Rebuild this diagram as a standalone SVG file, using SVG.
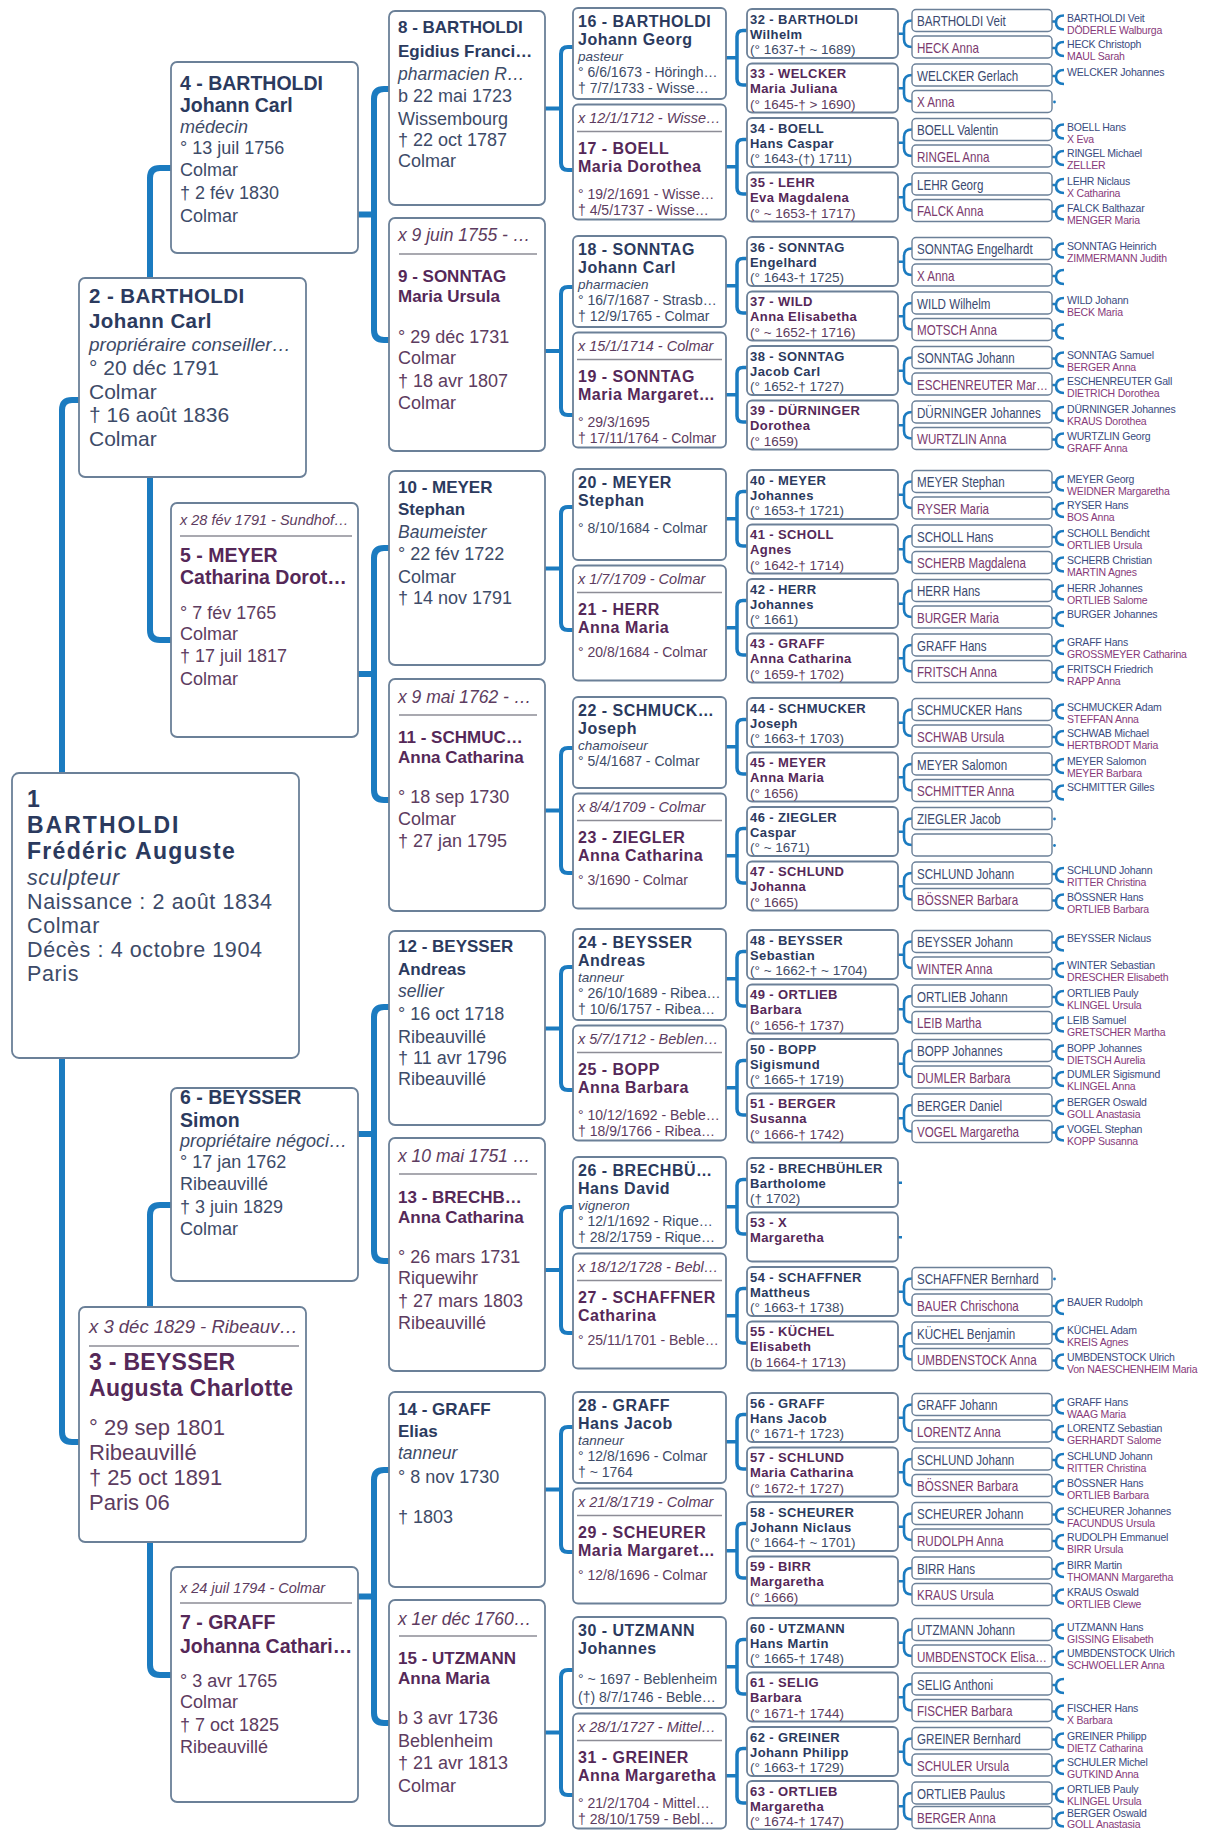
<svg xmlns="http://www.w3.org/2000/svg" width="1208" height="1830" viewBox="0 0 1208 1830">
<style>
text{font-family:"Liberation Sans",Arial,Helvetica,sans-serif}
.bx{fill:#fff;stroke:#6b8098;stroke-width:1.8}
.bs{fill:#fff;stroke:#6b8098;stroke-width:1.4}
.cn{fill:none;stroke:#1b7bc0;stroke-linejoin:round}
.w6{stroke-width:6}
.w4{stroke-width:4}
.sp{stroke:#8d8d96;stroke-width:1.4}
.m{fill:#2b3a5e}
.f{fill:#552858}
.md{fill:#3d4b68}
.fd{fill:#5d3c60}
.b{font-weight:bold}
.i{font-style:italic}
.t1{font-size:21.5px;letter-spacing:.6px}
.t1 .b{font-size:23px;letter-spacing:0}
.t2{font-size:21px}
.t2 .b{font-size:20.5px;letter-spacing:.4px}
.t2 .i{font-size:19px}
.t2f{font-size:22px}
.t2f .b{font-size:23px;letter-spacing:.3px}
.t2f .i{font-size:18.5px}
.t3{font-size:18px}
.t3 .b{font-size:19.5px}
.t3 .x{font-size:14.5px}
.t4{font-size:18px}
.t4 .b{font-size:17px}
.t4 .i{font-size:17.5px}
.t5{font-size:14px}
.t5 .b{font-size:16px;letter-spacing:.5px}
.t5 .i{font-size:13.5px}
.t5 .x{font-size:14.5px}
.t6{font-size:13.5px}
.t6 .b{font-size:13px;letter-spacing:.4px}
.g7m{fill:#3b4a70;font-size:14.5px}
.g7f{fill:#7a3a6e;font-size:14.5px}
.g8m{fill:#3a4b80;font-size:10.5px;letter-spacing:-.2px}
.g8f{fill:#873a7a;font-size:10.5px;letter-spacing:-.2px}
</style>
<defs>
<path id="b56" d="M726,49.75H737M747,22.5H743Q737,22.5 737,28.5V71Q737,77 743,77H747M726,158.75H737M747,131.5H743Q737,131.5 737,137.5V180Q737,186 743,186H747" fill="none" stroke="#1b7bc0" stroke-width="3.5"/>
<path id="b67" d="M898,24.75H904M912,11.5Q904,11.5 904,19V30.5Q904,38 912,38" fill="none" stroke="#1b7bc0" stroke-width="2.6"/>
<path id="cb" d="M1052,12H1056M1064,6Q1056,6 1056,13Q1056,20 1064,20" fill="none" stroke="#1b7bc0" stroke-width="2.6"/>
<circle id="dt" cx="1054.5" cy="11.5" r="1.4" fill="#1b7bc0"/>
</defs>
<rect width="1208" height="1830" fill="#fff"/>
<g id="connectors">
<path class="cn w6" d="M62,773V410Q62,400 72,400H80"/>
<path class="cn w6" d="M62,1058V1432Q62,1442 72,1442H80"/>
<path class="cn w6" d="M150,278V178Q150,168 160,168H172"/>
<path class="cn w6" d="M150,477V630Q150,640 160,640H172"/>
<path class="cn w6" d="M150,1307V1215Q150,1205 160,1205H172"/>
<path class="cn w6" d="M150,1542V1665Q150,1675 160,1675H172"/>
<path class="cn w6" d="M358,214.5H374M390,89H384Q374,89 374,99V330Q374,340 384,340H390"/>
<path class="cn w6" d="M358,674H374M390,548H384Q374,548 374,558V790Q374,800 384,800H390"/>
<path class="cn w6" d="M358,1134H374M390,1007H384Q374,1007 374,1017V1251Q374,1261 384,1261H390"/>
<path class="cn w6" d="M358,1596.5H374M390,1470H384Q374,1470 374,1480V1713Q374,1723 384,1723H390"/>
<path class="cn w4" d="M545,108.5H561M574,47H568Q561,47 561,54V163Q561,170 568,170H574"/>
<path class="cn w4" d="M545,351H561M574,287H568Q561,287 561,294V408Q561,415 568,415H574"/>
<path class="cn w4" d="M545,568.5H561M574,507H568Q561,507 561,514V623Q561,630 568,630H574"/>
<path class="cn w4" d="M545,810.5H561M574,748H568Q561,748 561,755V866Q561,873 568,873H574"/>
<path class="cn w4" d="M545,1028.5H561M574,967H568Q561,967 561,974V1083Q561,1090 568,1090H574"/>
<path class="cn w4" d="M545,1270H561M574,1207H568Q561,1207 561,1214V1326Q561,1333 568,1333H574"/>
<path class="cn w4" d="M545,1489.5H561M574,1427H568Q561,1427 561,1434V1545Q561,1552 568,1552H574"/>
<path class="cn w4" d="M545,1732.5H561M574,1670H568Q561,1670 561,1677V1788Q561,1795 568,1795H574"/>
<use href="#b56" transform="translate(0,8)"/>
<use href="#b56" transform="translate(0,236)"/>
<use href="#b56" transform="translate(0,469)"/>
<use href="#b56" transform="translate(0,697)"/>
<use href="#b56" transform="translate(0,929)"/>
<use href="#b56" transform="translate(0,1157)"/>
<use href="#b56" transform="translate(0,1392)"/>
<use href="#b56" transform="translate(0,1617)"/>
<use href="#b67" transform="translate(0,9)"/>
<use href="#b67" transform="translate(0,63.5)"/>
<use href="#b67" transform="translate(0,118)"/>
<use href="#b67" transform="translate(0,172.5)"/>
<use href="#b67" transform="translate(0,237)"/>
<use href="#b67" transform="translate(0,291.5)"/>
<use href="#b67" transform="translate(0,346)"/>
<use href="#b67" transform="translate(0,400.5)"/>
<use href="#b67" transform="translate(0,470)"/>
<use href="#b67" transform="translate(0,524.5)"/>
<use href="#b67" transform="translate(0,579)"/>
<use href="#b67" transform="translate(0,633.5)"/>
<use href="#b67" transform="translate(0,698)"/>
<use href="#b67" transform="translate(0,752.5)"/>
<use href="#b67" transform="translate(0,807)"/>
<use href="#b67" transform="translate(0,861.5)"/>
<use href="#b67" transform="translate(0,930)"/>
<use href="#b67" transform="translate(0,984.5)"/>
<use href="#b67" transform="translate(0,1039)"/>
<use href="#b67" transform="translate(0,1093.5)"/>
<path d="M898,1182.75H902M898,1237.25H902" fill="none" stroke="#1b7bc0" stroke-width="2.6"/>
<use href="#b67" transform="translate(0,1267)"/>
<use href="#b67" transform="translate(0,1321.5)"/>
<use href="#b67" transform="translate(0,1393)"/>
<use href="#b67" transform="translate(0,1447.5)"/>
<use href="#b67" transform="translate(0,1502)"/>
<use href="#b67" transform="translate(0,1556.5)"/>
<use href="#b67" transform="translate(0,1618)"/>
<use href="#b67" transform="translate(0,1672.5)"/>
<use href="#b67" transform="translate(0,1727)"/>
<use href="#b67" transform="translate(0,1781.5)"/>
<use href="#cb" transform="translate(0,9.5)"/>
<use href="#cb" transform="translate(0,36)"/>
<use href="#cb" transform="translate(0,64)"/>
<use href="#dt" transform="translate(0,90.5)"/>
<use href="#cb" transform="translate(0,118.5)"/>
<use href="#cb" transform="translate(0,145)"/>
<use href="#cb" transform="translate(0,173)"/>
<use href="#cb" transform="translate(0,199.5)"/>
<use href="#cb" transform="translate(0,237.5)"/>
<use href="#cb" transform="translate(0,264)"/>
<use href="#cb" transform="translate(0,292)"/>
<use href="#cb" transform="translate(0,318.5)"/>
<use href="#cb" transform="translate(0,346.5)"/>
<use href="#cb" transform="translate(0,373)"/>
<use href="#cb" transform="translate(0,401)"/>
<use href="#cb" transform="translate(0,427.5)"/>
<use href="#cb" transform="translate(0,470.5)"/>
<use href="#cb" transform="translate(0,497)"/>
<use href="#cb" transform="translate(0,525)"/>
<use href="#cb" transform="translate(0,551.5)"/>
<use href="#cb" transform="translate(0,579.5)"/>
<use href="#cb" transform="translate(0,606)"/>
<use href="#cb" transform="translate(0,634)"/>
<use href="#cb" transform="translate(0,660.5)"/>
<use href="#cb" transform="translate(0,698.5)"/>
<use href="#cb" transform="translate(0,725)"/>
<use href="#cb" transform="translate(0,753)"/>
<use href="#cb" transform="translate(0,779.5)"/>
<use href="#dt" transform="translate(0,807.5)"/>
<use href="#dt" transform="translate(0,834)"/>
<use href="#cb" transform="translate(0,862)"/>
<use href="#cb" transform="translate(0,888.5)"/>
<use href="#cb" transform="translate(0,930.5)"/>
<use href="#cb" transform="translate(0,957)"/>
<use href="#cb" transform="translate(0,985)"/>
<use href="#cb" transform="translate(0,1011.5)"/>
<use href="#cb" transform="translate(0,1039.5)"/>
<use href="#cb" transform="translate(0,1066)"/>
<use href="#cb" transform="translate(0,1094)"/>
<use href="#cb" transform="translate(0,1120.5)"/>
<use href="#dt" transform="translate(0,1267.5)"/>
<use href="#cb" transform="translate(0,1294)"/>
<use href="#cb" transform="translate(0,1322)"/>
<use href="#cb" transform="translate(0,1348.5)"/>
<use href="#cb" transform="translate(0,1393.5)"/>
<use href="#cb" transform="translate(0,1420)"/>
<use href="#cb" transform="translate(0,1448)"/>
<use href="#cb" transform="translate(0,1474.5)"/>
<use href="#cb" transform="translate(0,1502.5)"/>
<use href="#cb" transform="translate(0,1529)"/>
<use href="#cb" transform="translate(0,1557)"/>
<use href="#cb" transform="translate(0,1583.5)"/>
<use href="#cb" transform="translate(0,1618.5)"/>
<use href="#cb" transform="translate(0,1645)"/>
<use href="#cb" transform="translate(0,1673)"/>
<use href="#cb" transform="translate(0,1699.5)"/>
<use href="#cb" transform="translate(0,1727.5)"/>
<use href="#cb" transform="translate(0,1754)"/>
<use href="#cb" transform="translate(0,1782)"/>
<use href="#cb" transform="translate(0,1806.5)"/>
</g>

<g id="n1" class="t1 m"><rect class="bx" x="12" y="773" width="287" height="285" rx="7"/>
<text x="27" y="807" class="b">1</text>
<text x="27" y="833" class="b" style="letter-spacing:2px">BARTHOLDI</text>
<text x="27" y="859" class="b" style="letter-spacing:1.3px">Frédéric Auguste</text>
<text x="27" y="885" class="i md">sculpteur</text>
<text x="27" y="909" class="md">Naissance : 2 août 1834</text>
<text x="27" y="933" class="md">Colmar</text>
<text x="27" y="957" class="md">Décès : 4 octobre 1904</text>
<text x="27" y="981" class="md">Paris</text></g>

<g id="n2" class="t2 m"><rect class="bx" x="79" y="278" width="227" height="199" rx="6"/>
<text x="89" y="303" class="b">2 - BARTHOLDI</text>
<text x="89" y="328" class="b">Johann Carl</text>
<text x="89" y="351" class="i md">propriéraire conseiller…</text>
<text x="89" y="375" class="md">° 20 déc 1791</text>
<text x="89" y="398.5" class="md">Colmar</text>
<text x="89" y="422" class="md">† 16 août 1836</text>
<text x="89" y="445.5" class="md">Colmar</text></g>

<g id="n3" class="t2f f"><rect class="bx" x="79" y="1307" width="227" height="235" rx="6"/>
<text x="89" y="1333" class="i fd">x 3 déc 1829 - Ribeauv…</text>
<line class="sp" x1="89" y1="1346" x2="299" y2="1346"/>
<text x="89" y="1370" class="b">3 - BEYSSER</text>
<text x="89" y="1396" class="b">Augusta Charlotte</text>
<text x="89" y="1435" class="fd">° 29 sep 1801</text>
<text x="89" y="1460" class="fd">Ribeauvillé</text>
<text x="89" y="1485" class="fd">† 25 oct 1891</text>
<text x="89" y="1510" class="fd">Paris 06</text></g>

<g id="n4" class="t3 m"><rect class="bx" x="171" y="62" width="187" height="191" rx="6"/>
<text x="180" y="90" class="b">4 - BARTHOLDI</text>
<text x="180" y="112" class="b">Johann Carl</text>
<text x="180" y="133" class="i md">médecin</text>
<text x="180" y="154" class="md">° 13 juil 1756</text>
<text x="180" y="176" class="md">Colmar</text>
<text x="180" y="199" class="md">† 2 fév 1830</text>
<text x="180" y="222" class="md">Colmar</text></g>

<g id="n5" class="t3 f"><rect class="bx" x="171" y="503" width="187" height="234" rx="6"/>
<text x="180" y="525" class="i x fd">x 28 fév 1791 - Sundhof…</text>
<line class="sp" x1="180" y1="536" x2="352" y2="536"/>
<text x="180" y="562" class="b">5 - MEYER</text>
<text x="180" y="584" class="b">Catharina Dorot…</text>
<text x="180" y="619" class="fd">° 7 fév 1765</text>
<text x="180" y="640" class="fd">Colmar</text>
<text x="180" y="662" class="fd">† 17 juil 1817</text>
<text x="180" y="685" class="fd">Colmar</text></g>

<g id="n6" class="t3 m"><rect class="bx" x="171" y="1088" width="187" height="193" rx="6"/>
<text x="180" y="1104" class="b">6 - BEYSSER</text>
<text x="180" y="1127" class="b">Simon</text>
<text x="180" y="1147" class="i md">propriétaire négoci…</text>
<text x="180" y="1168" class="md">° 17 jan 1762</text>
<text x="180" y="1190" class="md">Ribeauvillé</text>
<text x="180" y="1213" class="md">† 3 juin 1829</text>
<text x="180" y="1235" class="md">Colmar</text></g>

<g id="n7" class="t3 f"><rect class="bx" x="171" y="1567" width="187" height="235" rx="6"/>
<text x="180" y="1593" class="i x fd">x 24 juil 1794 - Colmar</text>
<line class="sp" x1="180" y1="1603" x2="352" y2="1603"/>
<text x="180" y="1629" class="b">7 - GRAFF</text>
<text x="180" y="1653" class="b">Johanna Cathari…</text>
<text x="180" y="1687" class="fd">° 3 avr 1765</text>
<text x="180" y="1708" class="fd">Colmar</text>
<text x="180" y="1731" class="fd">† 7 oct 1825</text>
<text x="180" y="1753" class="fd">Ribeauvillé</text></g>

<g id="n8" class="t4 m"><rect class="bx" x="389" y="11" width="156" height="194" rx="6"/>
<text x="398" y="33" class="b">8 - BARTHOLDI</text>
<text x="398" y="57" class="b">Egidius Franci…</text>
<text x="398" y="80" class="i md">pharmacien R…</text>
<text x="398" y="102" class="md">b 22 mai 1723</text>
<text x="398" y="125" class="md">Wissembourg</text>
<text x="398" y="145.5" class="md">† 22 oct 1787</text>
<text x="398" y="167" class="md">Colmar</text></g>

<g id="n9" class="t4 f"><rect class="bx" x="389" y="218" width="156" height="233" rx="6"/>
<text x="398" y="241" class="i fd">x 9 juin 1755 - …</text>
<line class="sp" x1="399" y1="254" x2="537" y2="254"/>
<text x="398" y="282" class="b">9 - SONNTAG</text>
<text x="398" y="302" class="b">Maria Ursula</text>
<text x="398" y="343" class="fd">° 29 déc 1731</text>
<text x="398" y="364" class="fd">Colmar</text>
<text x="398" y="387" class="fd">† 18 avr 1807</text>
<text x="398" y="409" class="fd">Colmar</text></g>

<g id="n10" class="t4 m"><rect class="bx" x="389" y="471" width="156" height="194" rx="6"/>
<text x="398" y="493" class="b">10 - MEYER</text>
<text x="398" y="515" class="b">Stephan</text>
<text x="398" y="538" class="i md">Baumeister</text>
<text x="398" y="560" class="md">° 22 fév 1722</text>
<text x="398" y="583" class="md">Colmar</text>
<text x="398" y="603.5" class="md">† 14 nov 1791</text></g>

<g id="n11" class="t4 f"><rect class="bx" x="389" y="679" width="156" height="232" rx="6"/>
<text x="398" y="703" class="i fd">x 9 mai 1762 - …</text>
<line class="sp" x1="399" y1="715" x2="537" y2="715"/>
<text x="398" y="743" class="b">11 - SCHMUC…</text>
<text x="398" y="763" class="b">Anna Catharina</text>
<text x="398" y="803" class="fd">° 18 sep 1730</text>
<text x="398" y="825" class="fd">Colmar</text>
<text x="398" y="847" class="fd">† 27 jan 1795</text></g>

<g id="n12" class="t4 m"><rect class="bx" x="389" y="931" width="156" height="194" rx="6"/>
<text x="398" y="952" class="b">12 - BEYSSER</text>
<text x="398" y="975" class="b">Andreas</text>
<text x="398" y="997" class="i md">sellier</text>
<text x="398" y="1020" class="md">° 16 oct 1718</text>
<text x="398" y="1043" class="md">Ribeauvillé</text>
<text x="398" y="1063.5" class="md">† 11 avr 1796</text>
<text x="398" y="1085" class="md">Ribeauvillé</text></g>

<g id="n13" class="t4 f"><rect class="bx" x="389" y="1138" width="156" height="233" rx="6"/>
<text x="398" y="1162" class="i fd">x 10 mai 1751 …</text>
<line class="sp" x1="399" y1="1174" x2="537" y2="1174"/>
<text x="398" y="1203" class="b">13 - BRECHB…</text>
<text x="398" y="1223" class="b">Anna Catharina</text>
<text x="398" y="1263" class="fd">° 26 mars 1731</text>
<text x="398" y="1284" class="fd">Riquewihr</text>
<text x="398" y="1307" class="fd">† 27 mars 1803</text>
<text x="398" y="1329" class="fd">Ribeauvillé</text></g>

<g id="n14" class="t4 m"><rect class="bx" x="389" y="1392" width="156" height="195" rx="6"/>
<text x="398" y="1415" class="b">14 - GRAFF</text>
<text x="398" y="1437" class="b">Elias</text>
<text x="398" y="1459" class="i md">tanneur</text>
<text x="398" y="1483" class="md">° 8 nov 1730</text>
<text x="398" y="1523" class="md">† 1803</text></g>

<g id="n15" class="t4 f"><rect class="bx" x="389" y="1600" width="156" height="226" rx="6"/>
<text x="398" y="1625" class="i fd">x 1er déc 1760…</text>
<line class="sp" x1="399" y1="1636" x2="537" y2="1636"/>
<text x="398" y="1664" class="b">15 - UTZMANN</text>
<text x="398" y="1684" class="b">Anna Maria</text>
<text x="398" y="1724" class="fd">b 3 avr 1736</text>
<text x="398" y="1747" class="fd">Beblenheim</text>
<text x="398" y="1769" class="fd">† 21 avr 1813</text>
<text x="398" y="1792" class="fd">Colmar</text></g>

<g id="n16" class="t5 m" transform="translate(0,8)"><rect class="bx" x="573" width="153" height="91" rx="5"/><text x="578" y="18.5" class="b">16 - BARTHOLDI</text><text x="578" y="37" class="b">Johann Georg</text><text x="578" y="52.5" class="i md">pasteur</text><text x="578" y="68.5" class="md">° 6/6/1673 - Höringh…</text><text x="578" y="84.5" class="md">† 7/7/1733 - Wisse…</text></g>
<g id="n17" class="t5 f" transform="translate(0,104.5)"><rect class="bx" x="573" width="153" height="115" rx="5"/><text x="578" y="18" class="i x fd">x 12/1/1712 - Wisse…</text><line class="sp" x1="577" y1="27" x2="722" y2="27"/><text x="578" y="49" class="b">17 - BOELL</text><text x="578" y="67" class="b">Maria Dorothea</text><text x="578" y="94" class="fd">° 19/2/1691 - Wisse…</text><text x="578" y="110" class="fd">† 4/5/1737 - Wisse…</text></g>
<g id="n18" class="t5 m" transform="translate(0,236)"><rect class="bx" x="573" width="153" height="91" rx="5"/><text x="578" y="18.5" class="b">18 - SONNTAG</text><text x="578" y="37" class="b">Johann Carl</text><text x="578" y="52.5" class="i md">pharmacien</text><text x="578" y="68.5" class="md">° 16/7/1687 - Strasb…</text><text x="578" y="84.5" class="md">† 12/9/1765 - Colmar</text></g>
<g id="n19" class="t5 f" transform="translate(0,332.5)"><rect class="bx" x="573" width="153" height="115" rx="5"/><text x="578" y="18" class="i x fd">x 15/1/1714 - Colmar</text><line class="sp" x1="577" y1="27" x2="722" y2="27"/><text x="578" y="49" class="b">19 - SONNTAG</text><text x="578" y="67" class="b">Maria Margaret…</text><text x="578" y="94" class="fd">° 29/3/1695</text><text x="578" y="110" class="fd">† 17/11/1764 - Colmar</text></g>
<g id="n20" class="t5 m" transform="translate(0,469)"><rect class="bx" x="573" width="153" height="91" rx="5"/><text x="578" y="18.5" class="b">20 - MEYER</text><text x="578" y="37" class="b">Stephan</text><text x="578" y="64" class="md">° 8/10/1684 - Colmar</text></g>
<g id="n21" class="t5 f" transform="translate(0,565.5)"><rect class="bx" x="573" width="153" height="115" rx="5"/><text x="578" y="18" class="i x fd">x 1/7/1709 - Colmar</text><line class="sp" x1="577" y1="27" x2="722" y2="27"/><text x="578" y="49" class="b">21 - HERR</text><text x="578" y="67" class="b">Anna Maria</text><text x="578" y="91" class="fd">° 20/8/1684 - Colmar</text></g>
<g id="n22" class="t5 m" transform="translate(0,697)"><rect class="bx" x="573" width="153" height="91" rx="5"/><text x="578" y="18.5" class="b">22 - SCHMUCK…</text><text x="578" y="37" class="b">Joseph</text><text x="578" y="52.5" class="i md">chamoiseur</text><text x="578" y="68.5" class="md">° 5/4/1687 - Colmar</text></g>
<g id="n23" class="t5 f" transform="translate(0,793.5)"><rect class="bx" x="573" width="153" height="115" rx="5"/><text x="578" y="18" class="i x fd">x 8/4/1709 - Colmar</text><line class="sp" x1="577" y1="27" x2="722" y2="27"/><text x="578" y="49" class="b">23 - ZIEGLER</text><text x="578" y="67" class="b">Anna Catharina</text><text x="578" y="91" class="fd">° 3/1690 - Colmar</text></g>
<g id="n24" class="t5 m" transform="translate(0,929)"><rect class="bx" x="573" width="153" height="91" rx="5"/><text x="578" y="18.5" class="b">24 - BEYSSER</text><text x="578" y="37" class="b">Andreas</text><text x="578" y="52.5" class="i md">tanneur</text><text x="578" y="68.5" class="md">° 26/10/1689 - Ribea…</text><text x="578" y="84.5" class="md">† 10/6/1757 - Ribea…</text></g>
<g id="n25" class="t5 f" transform="translate(0,1025.5)"><rect class="bx" x="573" width="153" height="115" rx="5"/><text x="578" y="18" class="i x fd">x 5/7/1712 - Beblen…</text><line class="sp" x1="577" y1="27" x2="722" y2="27"/><text x="578" y="49" class="b">25 - BOPP</text><text x="578" y="67" class="b">Anna Barbara</text><text x="578" y="94" class="fd">° 10/12/1692 - Beble…</text><text x="578" y="110" class="fd">† 18/9/1766 - Ribea…</text></g>
<g id="n26" class="t5 m" transform="translate(0,1157)"><rect class="bx" x="573" width="153" height="91" rx="5"/><text x="578" y="18.5" class="b">26 - BRECHBÜ…</text><text x="578" y="37" class="b">Hans David</text><text x="578" y="52.5" class="i md">vigneron</text><text x="578" y="68.5" class="md">° 12/1/1692 - Rique…</text><text x="578" y="84.5" class="md">† 28/2/1759 - Rique…</text></g>
<g id="n27" class="t5 f" transform="translate(0,1253.5)"><rect class="bx" x="573" width="153" height="115" rx="5"/><text x="578" y="18" class="i x fd">x 18/12/1728 - Bebl…</text><line class="sp" x1="577" y1="27" x2="722" y2="27"/><text x="578" y="49" class="b">27 - SCHAFFNER</text><text x="578" y="67" class="b">Catharina</text><text x="578" y="91" class="fd">° 25/11/1701 - Beble…</text></g>
<g id="n28" class="t5 m" transform="translate(0,1392)"><rect class="bx" x="573" width="153" height="91" rx="5"/><text x="578" y="18.5" class="b">28 - GRAFF</text><text x="578" y="37" class="b">Hans Jacob</text><text x="578" y="52.5" class="i md">tanneur</text><text x="578" y="68.5" class="md">° 12/8/1696 - Colmar</text><text x="578" y="84.5" class="md">† ~ 1764</text></g>
<g id="n29" class="t5 f" transform="translate(0,1488.5)"><rect class="bx" x="573" width="153" height="115" rx="5"/><text x="578" y="18" class="i x fd">x 21/8/1719 - Colmar</text><line class="sp" x1="577" y1="27" x2="722" y2="27"/><text x="578" y="49" class="b">29 - SCHEURER</text><text x="578" y="67" class="b">Maria Margaret…</text><text x="578" y="91" class="fd">° 12/8/1696 - Colmar</text></g>
<g id="n30" class="t5 m" transform="translate(0,1617)"><rect class="bx" x="573" width="153" height="91" rx="5"/><text x="578" y="18.5" class="b">30 - UTZMANN</text><text x="578" y="37" class="b">Johannes</text><text x="578" y="67" class="md">° ~ 1697 - Beblenheim</text><text x="578" y="85" class="md">(†) 8/7/1746 - Beble…</text></g>
<g id="n31" class="t5 f" transform="translate(0,1713.5)"><rect class="bx" x="573" width="153" height="115" rx="5"/><text x="578" y="18" class="i x fd">x 28/1/1727 - Mittel…</text><line class="sp" x1="577" y1="27" x2="722" y2="27"/><text x="578" y="49" class="b">31 - GREINER</text><text x="578" y="67" class="b">Anna Margaretha</text><text x="578" y="94" class="fd">° 21/2/1704 - Mittel…</text><text x="578" y="110" class="fd">† 28/10/1759 - Bebl…</text></g>

<g id="n32" class="t6 m" transform="translate(0,9)"><rect class="bx" x="747" width="151" height="49" rx="5"/><text x="750" y="14.5" class="b">32 - BARTHOLDI</text><text x="750" y="29.5" class="b">Wilhelm</text><text x="750" y="45" class="md">(° 1637-† ~ 1689)</text></g>
<g id="n33" class="t6 f" transform="translate(0,63.5)"><rect class="bx" x="747" width="151" height="49" rx="5"/><text x="750" y="14.5" class="b">33 - WELCKER</text><text x="750" y="29.5" class="b">Maria Juliana</text><text x="750" y="45" class="fd">(° 1645-† &gt; 1690)</text></g>
<g id="n34" class="t6 m" transform="translate(0,118)"><rect class="bx" x="747" width="151" height="49" rx="5"/><text x="750" y="14.5" class="b">34 - BOELL</text><text x="750" y="29.5" class="b">Hans Caspar</text><text x="750" y="45" class="md">(° 1643-(†) 1711)</text></g>
<g id="n35" class="t6 f" transform="translate(0,172.5)"><rect class="bx" x="747" width="151" height="49" rx="5"/><text x="750" y="14.5" class="b">35 - LEHR</text><text x="750" y="29.5" class="b">Eva Magdalena</text><text x="750" y="45" class="fd">(° ~ 1653-† 1717)</text></g>
<g id="n36" class="t6 m" transform="translate(0,237)"><rect class="bx" x="747" width="151" height="49" rx="5"/><text x="750" y="14.5" class="b">36 - SONNTAG</text><text x="750" y="29.5" class="b">Engelhard</text><text x="750" y="45" class="md">(° 1643-† 1725)</text></g>
<g id="n37" class="t6 f" transform="translate(0,291.5)"><rect class="bx" x="747" width="151" height="49" rx="5"/><text x="750" y="14.5" class="b">37 - WILD</text><text x="750" y="29.5" class="b">Anna Elisabetha</text><text x="750" y="45" class="fd">(° ~ 1652-† 1716)</text></g>
<g id="n38" class="t6 m" transform="translate(0,346)"><rect class="bx" x="747" width="151" height="49" rx="5"/><text x="750" y="14.5" class="b">38 - SONNTAG</text><text x="750" y="29.5" class="b">Jacob Carl</text><text x="750" y="45" class="md">(° 1652-† 1727)</text></g>
<g id="n39" class="t6 f" transform="translate(0,400.5)"><rect class="bx" x="747" width="151" height="49" rx="5"/><text x="750" y="14.5" class="b">39 - DÜRNINGER</text><text x="750" y="29.5" class="b">Dorothea</text><text x="750" y="45" class="fd">(° 1659)</text></g>
<g id="n40" class="t6 m" transform="translate(0,470)"><rect class="bx" x="747" width="151" height="49" rx="5"/><text x="750" y="14.5" class="b">40 - MEYER</text><text x="750" y="29.5" class="b">Johannes</text><text x="750" y="45" class="md">(° 1653-† 1721)</text></g>
<g id="n41" class="t6 f" transform="translate(0,524.5)"><rect class="bx" x="747" width="151" height="49" rx="5"/><text x="750" y="14.5" class="b">41 - SCHOLL</text><text x="750" y="29.5" class="b">Agnes</text><text x="750" y="45" class="fd">(° 1642-† 1714)</text></g>
<g id="n42" class="t6 m" transform="translate(0,579)"><rect class="bx" x="747" width="151" height="49" rx="5"/><text x="750" y="14.5" class="b">42 - HERR</text><text x="750" y="29.5" class="b">Johannes</text><text x="750" y="45" class="md">(° 1661)</text></g>
<g id="n43" class="t6 f" transform="translate(0,633.5)"><rect class="bx" x="747" width="151" height="49" rx="5"/><text x="750" y="14.5" class="b">43 - GRAFF</text><text x="750" y="29.5" class="b">Anna Catharina</text><text x="750" y="45" class="fd">(° 1659-† 1702)</text></g>
<g id="n44" class="t6 m" transform="translate(0,698)"><rect class="bx" x="747" width="151" height="49" rx="5"/><text x="750" y="14.5" class="b">44 - SCHMUCKER</text><text x="750" y="29.5" class="b">Joseph</text><text x="750" y="45" class="md">(° 1663-† 1703)</text></g>
<g id="n45" class="t6 f" transform="translate(0,752.5)"><rect class="bx" x="747" width="151" height="49" rx="5"/><text x="750" y="14.5" class="b">45 - MEYER</text><text x="750" y="29.5" class="b">Anna Maria</text><text x="750" y="45" class="fd">(° 1656)</text></g>
<g id="n46" class="t6 m" transform="translate(0,807)"><rect class="bx" x="747" width="151" height="49" rx="5"/><text x="750" y="14.5" class="b">46 - ZIEGLER</text><text x="750" y="29.5" class="b">Caspar</text><text x="750" y="45" class="md">(° ~ 1671)</text></g>
<g id="n47" class="t6 f" transform="translate(0,861.5)"><rect class="bx" x="747" width="151" height="49" rx="5"/><text x="750" y="14.5" class="b">47 - SCHLUND</text><text x="750" y="29.5" class="b">Johanna</text><text x="750" y="45" class="fd">(° 1665)</text></g>
<g id="n48" class="t6 m" transform="translate(0,930)"><rect class="bx" x="747" width="151" height="49" rx="5"/><text x="750" y="14.5" class="b">48 - BEYSSER</text><text x="750" y="29.5" class="b">Sebastian</text><text x="750" y="45" class="md">(° ~ 1662-† ~ 1704)</text></g>
<g id="n49" class="t6 f" transform="translate(0,984.5)"><rect class="bx" x="747" width="151" height="49" rx="5"/><text x="750" y="14.5" class="b">49 - ORTLIEB</text><text x="750" y="29.5" class="b">Barbara</text><text x="750" y="45" class="fd">(° 1656-† 1737)</text></g>
<g id="n50" class="t6 m" transform="translate(0,1039)"><rect class="bx" x="747" width="151" height="49" rx="5"/><text x="750" y="14.5" class="b">50 - BOPP</text><text x="750" y="29.5" class="b">Sigismund</text><text x="750" y="45" class="md">(° 1665-† 1719)</text></g>
<g id="n51" class="t6 f" transform="translate(0,1093.5)"><rect class="bx" x="747" width="151" height="49" rx="5"/><text x="750" y="14.5" class="b">51 - BERGER</text><text x="750" y="29.5" class="b">Susanna</text><text x="750" y="45" class="fd">(° 1666-† 1742)</text></g>
<g id="n52" class="t6 m" transform="translate(0,1158)"><rect class="bx" x="747" width="151" height="49" rx="5"/><text x="750" y="14.5" class="b">52 - BRECHBÜHLER</text><text x="750" y="29.5" class="b">Bartholome</text><text x="750" y="45" class="md">(† 1702)</text></g>
<g id="n53" class="t6 f" transform="translate(0,1212.5)"><rect class="bx" x="747" width="151" height="49" rx="5"/><text x="750" y="14.5" class="b">53 - X</text><text x="750" y="29.5" class="b">Margaretha</text></g>
<g id="n54" class="t6 m" transform="translate(0,1267)"><rect class="bx" x="747" width="151" height="49" rx="5"/><text x="750" y="14.5" class="b">54 - SCHAFFNER</text><text x="750" y="29.5" class="b">Mattheus</text><text x="750" y="45" class="md">(° 1663-† 1738)</text></g>
<g id="n55" class="t6 f" transform="translate(0,1321.5)"><rect class="bx" x="747" width="151" height="49" rx="5"/><text x="750" y="14.5" class="b">55 - KÜCHEL</text><text x="750" y="29.5" class="b">Elisabeth</text><text x="750" y="45" class="fd">(b 1664-† 1713)</text></g>
<g id="n56" class="t6 m" transform="translate(0,1393)"><rect class="bx" x="747" width="151" height="49" rx="5"/><text x="750" y="14.5" class="b">56 - GRAFF</text><text x="750" y="29.5" class="b">Hans Jacob</text><text x="750" y="45" class="md">(° 1671-† 1723)</text></g>
<g id="n57" class="t6 f" transform="translate(0,1447.5)"><rect class="bx" x="747" width="151" height="49" rx="5"/><text x="750" y="14.5" class="b">57 - SCHLUND</text><text x="750" y="29.5" class="b">Maria Catharina</text><text x="750" y="45" class="fd">(° 1672-† 1727)</text></g>
<g id="n58" class="t6 m" transform="translate(0,1502)"><rect class="bx" x="747" width="151" height="49" rx="5"/><text x="750" y="14.5" class="b">58 - SCHEURER</text><text x="750" y="29.5" class="b">Johann Niclaus</text><text x="750" y="45" class="md">(° 1664-† ~ 1701)</text></g>
<g id="n59" class="t6 f" transform="translate(0,1556.5)"><rect class="bx" x="747" width="151" height="49" rx="5"/><text x="750" y="14.5" class="b">59 - BIRR</text><text x="750" y="29.5" class="b">Margaretha</text><text x="750" y="45" class="fd">(° 1666)</text></g>
<g id="n60" class="t6 m" transform="translate(0,1618)"><rect class="bx" x="747" width="151" height="49" rx="5"/><text x="750" y="14.5" class="b">60 - UTZMANN</text><text x="750" y="29.5" class="b">Hans Martin</text><text x="750" y="45" class="md">(° 1665-† 1748)</text></g>
<g id="n61" class="t6 f" transform="translate(0,1672.5)"><rect class="bx" x="747" width="151" height="49" rx="5"/><text x="750" y="14.5" class="b">61 - SELIG</text><text x="750" y="29.5" class="b">Barbara</text><text x="750" y="45" class="fd">(° 1671-† 1744)</text></g>
<g id="n62" class="t6 m" transform="translate(0,1727)"><rect class="bx" x="747" width="151" height="49" rx="5"/><text x="750" y="14.5" class="b">62 - GREINER</text><text x="750" y="29.5" class="b">Johann Philipp</text><text x="750" y="45" class="md">(° 1663-† 1729)</text></g>
<g id="n63" class="t6 f" transform="translate(0,1781)"><rect class="bx" x="747" width="151" height="48.5" rx="5"/><text x="750" y="14.5" class="b">63 - ORTLIEB</text><text x="750" y="29.5" class="b">Margaretha</text><text x="750" y="45" class="fd">(° 1674-† 1747)</text></g>

<g id="n64" transform="translate(0,9.5)"><rect class="bs" x="912" width="140" height="22" rx="4"/><text class="g7m" transform="matrix(.8,0,0,1,917,16.5)">BARTHOLDI Veit</text><g transform="translate(1067,0)"><text class="g8m" y="12">BARTHOLDI Veit</text><text class="g8f" y="24">DÖDERLE Walburga</text></g></g>
<g id="n65" transform="translate(0,36)"><rect class="bs" x="912" width="140" height="22" rx="4"/><text class="g7f" transform="matrix(.8,0,0,1,917,16.5)">HECK Anna</text><g transform="translate(1067,0)"><text class="g8m" y="12">HECK Christoph</text><text class="g8f" y="24">MAUL Sarah</text></g></g>
<g id="n66" transform="translate(0,64)"><rect class="bs" x="912" width="140" height="22" rx="4"/><text class="g7m" transform="matrix(.8,0,0,1,917,16.5)">WELCKER Gerlach</text><g transform="translate(1067,0)"><text class="g8m" y="11.5">WELCKER Johannes</text></g></g>
<g id="n67" transform="translate(0,90.5)"><rect class="bs" x="912" width="140" height="22" rx="4"/><text class="g7f" transform="matrix(.8,0,0,1,917,16.5)">X Anna</text></g>
<g id="n68" transform="translate(0,118.5)"><rect class="bs" x="912" width="140" height="22" rx="4"/><text class="g7m" transform="matrix(.8,0,0,1,917,16.5)">BOELL Valentin</text><g transform="translate(1067,0)"><text class="g8m" y="12">BOELL Hans</text><text class="g8f" y="24">X Eva</text></g></g>
<g id="n69" transform="translate(0,145)"><rect class="bs" x="912" width="140" height="22" rx="4"/><text class="g7f" transform="matrix(.8,0,0,1,917,16.5)">RINGEL Anna</text><g transform="translate(1067,0)"><text class="g8m" y="12">RINGEL Michael</text><text class="g8f" y="24">ZELLER</text></g></g>
<g id="n70" transform="translate(0,173)"><rect class="bs" x="912" width="140" height="22" rx="4"/><text class="g7m" transform="matrix(.8,0,0,1,917,16.5)">LEHR Georg</text><g transform="translate(1067,0)"><text class="g8m" y="12">LEHR Niclaus</text><text class="g8f" y="24">X Catharina</text></g></g>
<g id="n71" transform="translate(0,199.5)"><rect class="bs" x="912" width="140" height="22" rx="4"/><text class="g7f" transform="matrix(.8,0,0,1,917,16.5)">FALCK Anna</text><g transform="translate(1067,0)"><text class="g8m" y="12">FALCK Balthazar</text><text class="g8f" y="24">MENGER Maria</text></g></g>
<g id="n72" transform="translate(0,237.5)"><rect class="bs" x="912" width="140" height="22" rx="4"/><text class="g7m" transform="matrix(.8,0,0,1,917,16.5)">SONNTAG Engelhardt</text><g transform="translate(1067,0)"><text class="g8m" y="12">SONNTAG Heinrich</text><text class="g8f" y="24">ZIMMERMANN Judith</text></g></g>
<g id="n73" transform="translate(0,264)"><rect class="bs" x="912" width="140" height="22" rx="4"/><text class="g7f" transform="matrix(.8,0,0,1,917,16.5)">X Anna</text></g>
<g id="n74" transform="translate(0,292)"><rect class="bs" x="912" width="140" height="22" rx="4"/><text class="g7m" transform="matrix(.8,0,0,1,917,16.5)">WILD Wilhelm</text><g transform="translate(1067,0)"><text class="g8m" y="12">WILD Johann</text><text class="g8f" y="24">BECK Maria</text></g></g>
<g id="n75" transform="translate(0,318.5)"><rect class="bs" x="912" width="140" height="22" rx="4"/><text class="g7f" transform="matrix(.8,0,0,1,917,16.5)">MOTSCH Anna</text></g>
<g id="n76" transform="translate(0,346.5)"><rect class="bs" x="912" width="140" height="22" rx="4"/><text class="g7m" transform="matrix(.8,0,0,1,917,16.5)">SONNTAG Johann</text><g transform="translate(1067,0)"><text class="g8m" y="12">SONNTAG Samuel</text><text class="g8f" y="24">BERGER Anna</text></g></g>
<g id="n77" transform="translate(0,373)"><rect class="bs" x="912" width="140" height="22" rx="4"/><text class="g7f" transform="matrix(.8,0,0,1,917,16.5)">ESCHENREUTER Mar…</text><g transform="translate(1067,0)"><text class="g8m" y="12">ESCHENREUTER Gall</text><text class="g8f" y="24">DIETRICH Dorothea</text></g></g>
<g id="n78" transform="translate(0,401)"><rect class="bs" x="912" width="140" height="22" rx="4"/><text class="g7m" transform="matrix(.8,0,0,1,917,16.5)">DÜRNINGER Johannes</text><g transform="translate(1067,0)"><text class="g8m" y="12">DÜRNINGER Johannes</text><text class="g8f" y="24">KRAUS Dorothea</text></g></g>
<g id="n79" transform="translate(0,427.5)"><rect class="bs" x="912" width="140" height="22" rx="4"/><text class="g7f" transform="matrix(.8,0,0,1,917,16.5)">WURTZLIN Anna</text><g transform="translate(1067,0)"><text class="g8m" y="12">WURTZLIN Georg</text><text class="g8f" y="24">GRAFF Anna</text></g></g>
<g id="n80" transform="translate(0,470.5)"><rect class="bs" x="912" width="140" height="22" rx="4"/><text class="g7m" transform="matrix(.8,0,0,1,917,16.5)">MEYER Stephan</text><g transform="translate(1067,0)"><text class="g8m" y="12">MEYER Georg</text><text class="g8f" y="24">WEIDNER Margaretha</text></g></g>
<g id="n81" transform="translate(0,497)"><rect class="bs" x="912" width="140" height="22" rx="4"/><text class="g7f" transform="matrix(.8,0,0,1,917,16.5)">RYSER Maria</text><g transform="translate(1067,0)"><text class="g8m" y="12">RYSER Hans</text><text class="g8f" y="24">BOS Anna</text></g></g>
<g id="n82" transform="translate(0,525)"><rect class="bs" x="912" width="140" height="22" rx="4"/><text class="g7m" transform="matrix(.8,0,0,1,917,16.5)">SCHOLL Hans</text><g transform="translate(1067,0)"><text class="g8m" y="12">SCHOLL Bendicht</text><text class="g8f" y="24">ORTLIEB Ursula</text></g></g>
<g id="n83" transform="translate(0,551.5)"><rect class="bs" x="912" width="140" height="22" rx="4"/><text class="g7f" transform="matrix(.8,0,0,1,917,16.5)">SCHERB Magdalena</text><g transform="translate(1067,0)"><text class="g8m" y="12">SCHERB Christian</text><text class="g8f" y="24">MARTIN Agnes</text></g></g>
<g id="n84" transform="translate(0,579.5)"><rect class="bs" x="912" width="140" height="22" rx="4"/><text class="g7m" transform="matrix(.8,0,0,1,917,16.5)">HERR Hans</text><g transform="translate(1067,0)"><text class="g8m" y="12">HERR Johannes</text><text class="g8f" y="24">ORTLIEB Salome</text></g></g>
<g id="n85" transform="translate(0,606)"><rect class="bs" x="912" width="140" height="22" rx="4"/><text class="g7f" transform="matrix(.8,0,0,1,917,16.5)">BURGER Maria</text><g transform="translate(1067,0)"><text class="g8m" y="11.5">BURGER Johannes</text></g></g>
<g id="n86" transform="translate(0,634)"><rect class="bs" x="912" width="140" height="22" rx="4"/><text class="g7m" transform="matrix(.8,0,0,1,917,16.5)">GRAFF Hans</text><g transform="translate(1067,0)"><text class="g8m" y="12">GRAFF Hans</text><text class="g8f" y="24">GROSSMEYER Catharina</text></g></g>
<g id="n87" transform="translate(0,660.5)"><rect class="bs" x="912" width="140" height="22" rx="4"/><text class="g7f" transform="matrix(.8,0,0,1,917,16.5)">FRITSCH Anna</text><g transform="translate(1067,0)"><text class="g8m" y="12">FRITSCH Friedrich</text><text class="g8f" y="24">RAPP Anna</text></g></g>
<g id="n88" transform="translate(0,698.5)"><rect class="bs" x="912" width="140" height="22" rx="4"/><text class="g7m" transform="matrix(.8,0,0,1,917,16.5)">SCHMUCKER Hans</text><g transform="translate(1067,0)"><text class="g8m" y="12">SCHMUCKER Adam</text><text class="g8f" y="24">STEFFAN Anna</text></g></g>
<g id="n89" transform="translate(0,725)"><rect class="bs" x="912" width="140" height="22" rx="4"/><text class="g7f" transform="matrix(.8,0,0,1,917,16.5)">SCHWAB Ursula</text><g transform="translate(1067,0)"><text class="g8m" y="12">SCHWAB Michael</text><text class="g8f" y="24">HERTBRODT Maria</text></g></g>
<g id="n90" transform="translate(0,753)"><rect class="bs" x="912" width="140" height="22" rx="4"/><text class="g7m" transform="matrix(.8,0,0,1,917,16.5)">MEYER Salomon</text><g transform="translate(1067,0)"><text class="g8m" y="12">MEYER Salomon</text><text class="g8f" y="24">MEYER Barbara</text></g></g>
<g id="n91" transform="translate(0,779.5)"><rect class="bs" x="912" width="140" height="22" rx="4"/><text class="g7f" transform="matrix(.8,0,0,1,917,16.5)">SCHMITTER Anna</text><g transform="translate(1067,0)"><text class="g8m" y="11.5">SCHMITTER Gilles</text></g></g>
<g id="n92" transform="translate(0,807.5)"><rect class="bs" x="912" width="140" height="22" rx="4"/><text class="g7m" transform="matrix(.8,0,0,1,917,16.5)">ZIEGLER Jacob</text></g>
<g id="n93" transform="translate(0,834)"><rect class="bs" x="912" width="140" height="22" rx="4"/></g>
<g id="n94" transform="translate(0,862)"><rect class="bs" x="912" width="140" height="22" rx="4"/><text class="g7m" transform="matrix(.8,0,0,1,917,16.5)">SCHLUND Johann</text><g transform="translate(1067,0)"><text class="g8m" y="12">SCHLUND Johann</text><text class="g8f" y="24">RITTER Christina</text></g></g>
<g id="n95" transform="translate(0,888.5)"><rect class="bs" x="912" width="140" height="22" rx="4"/><text class="g7f" transform="matrix(.8,0,0,1,917,16.5)">BÖSSNER Barbara</text><g transform="translate(1067,0)"><text class="g8m" y="12">BÖSSNER Hans</text><text class="g8f" y="24">ORTLIEB Barbara</text></g></g>
<g id="n96" transform="translate(0,930.5)"><rect class="bs" x="912" width="140" height="22" rx="4"/><text class="g7m" transform="matrix(.8,0,0,1,917,16.5)">BEYSSER Johann</text><g transform="translate(1067,0)"><text class="g8m" y="11.5">BEYSSER Niclaus</text></g></g>
<g id="n97" transform="translate(0,957)"><rect class="bs" x="912" width="140" height="22" rx="4"/><text class="g7f" transform="matrix(.8,0,0,1,917,16.5)">WINTER Anna</text><g transform="translate(1067,0)"><text class="g8m" y="12">WINTER Sebastian</text><text class="g8f" y="24">DRESCHER Elisabeth</text></g></g>
<g id="n98" transform="translate(0,985)"><rect class="bs" x="912" width="140" height="22" rx="4"/><text class="g7m" transform="matrix(.8,0,0,1,917,16.5)">ORTLIEB Johann</text><g transform="translate(1067,0)"><text class="g8m" y="12">ORTLIEB Pauly</text><text class="g8f" y="24">KLINGEL Ursula</text></g></g>
<g id="n99" transform="translate(0,1011.5)"><rect class="bs" x="912" width="140" height="22" rx="4"/><text class="g7f" transform="matrix(.8,0,0,1,917,16.5)">LEIB Martha</text><g transform="translate(1067,0)"><text class="g8m" y="12">LEIB Samuel</text><text class="g8f" y="24">GRETSCHER Martha</text></g></g>
<g id="n100" transform="translate(0,1039.5)"><rect class="bs" x="912" width="140" height="22" rx="4"/><text class="g7m" transform="matrix(.8,0,0,1,917,16.5)">BOPP Johannes</text><g transform="translate(1067,0)"><text class="g8m" y="12">BOPP Johannes</text><text class="g8f" y="24">DIETSCH Aurelia</text></g></g>
<g id="n101" transform="translate(0,1066)"><rect class="bs" x="912" width="140" height="22" rx="4"/><text class="g7f" transform="matrix(.8,0,0,1,917,16.5)">DUMLER Barbara</text><g transform="translate(1067,0)"><text class="g8m" y="12">DUMLER Sigismund</text><text class="g8f" y="24">KLINGEL Anna</text></g></g>
<g id="n102" transform="translate(0,1094)"><rect class="bs" x="912" width="140" height="22" rx="4"/><text class="g7m" transform="matrix(.8,0,0,1,917,16.5)">BERGER Daniel</text><g transform="translate(1067,0)"><text class="g8m" y="12">BERGER Oswald</text><text class="g8f" y="24">GOLL Anastasia</text></g></g>
<g id="n103" transform="translate(0,1120.5)"><rect class="bs" x="912" width="140" height="22" rx="4"/><text class="g7f" transform="matrix(.8,0,0,1,917,16.5)">VOGEL Margaretha</text><g transform="translate(1067,0)"><text class="g8m" y="12">VOGEL Stephan</text><text class="g8f" y="24">KOPP Susanna</text></g></g>
<g id="n108" transform="translate(0,1267.5)"><rect class="bs" x="912" width="140" height="22" rx="4"/><text class="g7m" transform="matrix(.8,0,0,1,917,16.5)">SCHAFFNER Bernhard</text></g>
<g id="n109" transform="translate(0,1294)"><rect class="bs" x="912" width="140" height="22" rx="4"/><text class="g7f" transform="matrix(.8,0,0,1,917,16.5)">BAUER Chrischona</text><g transform="translate(1067,0)"><text class="g8m" y="11.5">BAUER Rudolph</text></g></g>
<g id="n110" transform="translate(0,1322)"><rect class="bs" x="912" width="140" height="22" rx="4"/><text class="g7m" transform="matrix(.8,0,0,1,917,16.5)">KÜCHEL Benjamin</text><g transform="translate(1067,0)"><text class="g8m" y="12">KÜCHEL Adam</text><text class="g8f" y="24">KREIS Agnes</text></g></g>
<g id="n111" transform="translate(0,1348.5)"><rect class="bs" x="912" width="140" height="22" rx="4"/><text class="g7f" transform="matrix(.8,0,0,1,917,16.5)">UMBDENSTOCK Anna</text><g transform="translate(1067,0)"><text class="g8m" y="12">UMBDENSTOCK Ulrich</text><text class="g8f" y="24">Von NAESCHENHEIM Maria</text></g></g>
<g id="n112" transform="translate(0,1393.5)"><rect class="bs" x="912" width="140" height="22" rx="4"/><text class="g7m" transform="matrix(.8,0,0,1,917,16.5)">GRAFF Johann</text><g transform="translate(1067,0)"><text class="g8m" y="12">GRAFF Hans</text><text class="g8f" y="24">WAAG Maria</text></g></g>
<g id="n113" transform="translate(0,1420)"><rect class="bs" x="912" width="140" height="22" rx="4"/><text class="g7f" transform="matrix(.8,0,0,1,917,16.5)">LORENTZ Anna</text><g transform="translate(1067,0)"><text class="g8m" y="12">LORENTZ Sebastian</text><text class="g8f" y="24">GERHARDT Salome</text></g></g>
<g id="n114" transform="translate(0,1448)"><rect class="bs" x="912" width="140" height="22" rx="4"/><text class="g7m" transform="matrix(.8,0,0,1,917,16.5)">SCHLUND Johann</text><g transform="translate(1067,0)"><text class="g8m" y="12">SCHLUND Johann</text><text class="g8f" y="24">RITTER Christina</text></g></g>
<g id="n115" transform="translate(0,1474.5)"><rect class="bs" x="912" width="140" height="22" rx="4"/><text class="g7f" transform="matrix(.8,0,0,1,917,16.5)">BÖSSNER Barbara</text><g transform="translate(1067,0)"><text class="g8m" y="12">BÖSSNER Hans</text><text class="g8f" y="24">ORTLIEB Barbara</text></g></g>
<g id="n116" transform="translate(0,1502.5)"><rect class="bs" x="912" width="140" height="22" rx="4"/><text class="g7m" transform="matrix(.8,0,0,1,917,16.5)">SCHEURER Johann</text><g transform="translate(1067,0)"><text class="g8m" y="12">SCHEURER Johannes</text><text class="g8f" y="24">FACUNDUS Ursula</text></g></g>
<g id="n117" transform="translate(0,1529)"><rect class="bs" x="912" width="140" height="22" rx="4"/><text class="g7f" transform="matrix(.8,0,0,1,917,16.5)">RUDOLPH Anna</text><g transform="translate(1067,0)"><text class="g8m" y="12">RUDOLPH Emmanuel</text><text class="g8f" y="24">BIRR Ursula</text></g></g>
<g id="n118" transform="translate(0,1557)"><rect class="bs" x="912" width="140" height="22" rx="4"/><text class="g7m" transform="matrix(.8,0,0,1,917,16.5)">BIRR Hans</text><g transform="translate(1067,0)"><text class="g8m" y="12">BIRR Martin</text><text class="g8f" y="24">THOMANN Margaretha</text></g></g>
<g id="n119" transform="translate(0,1583.5)"><rect class="bs" x="912" width="140" height="22" rx="4"/><text class="g7f" transform="matrix(.8,0,0,1,917,16.5)">KRAUS Ursula</text><g transform="translate(1067,0)"><text class="g8m" y="12">KRAUS Oswald</text><text class="g8f" y="24">ORTLIEB Clewe</text></g></g>
<g id="n120" transform="translate(0,1618.5)"><rect class="bs" x="912" width="140" height="22" rx="4"/><text class="g7m" transform="matrix(.8,0,0,1,917,16.5)">UTZMANN Johann</text><g transform="translate(1067,0)"><text class="g8m" y="12">UTZMANN Hans</text><text class="g8f" y="24">GISSING Elisabeth</text></g></g>
<g id="n121" transform="translate(0,1645)"><rect class="bs" x="912" width="140" height="22" rx="4"/><text class="g7f" transform="matrix(.8,0,0,1,917,16.5)">UMBDENSTOCK Elisa…</text><g transform="translate(1067,0)"><text class="g8m" y="12">UMBDENSTOCK Ulrich</text><text class="g8f" y="24">SCHWOELLER Anna</text></g></g>
<g id="n122" transform="translate(0,1673)"><rect class="bs" x="912" width="140" height="22" rx="4"/><text class="g7m" transform="matrix(.8,0,0,1,917,16.5)">SELIG Anthoni</text></g>
<g id="n123" transform="translate(0,1699.5)"><rect class="bs" x="912" width="140" height="22" rx="4"/><text class="g7f" transform="matrix(.8,0,0,1,917,16.5)">FISCHER Barbara</text><g transform="translate(1067,0)"><text class="g8m" y="12">FISCHER Hans</text><text class="g8f" y="24">X Barbara</text></g></g>
<g id="n124" transform="translate(0,1727.5)"><rect class="bs" x="912" width="140" height="22" rx="4"/><text class="g7m" transform="matrix(.8,0,0,1,917,16.5)">GREINER Bernhard</text><g transform="translate(1067,0)"><text class="g8m" y="12">GREINER Philipp</text><text class="g8f" y="24">DIETZ Catharina</text></g></g>
<g id="n125" transform="translate(0,1754)"><rect class="bs" x="912" width="140" height="22" rx="4"/><text class="g7f" transform="matrix(.8,0,0,1,917,16.5)">SCHULER Ursula</text><g transform="translate(1067,0)"><text class="g8m" y="12">SCHULER Michel</text><text class="g8f" y="24">GUTKIND Anna</text></g></g>
<g id="n126" transform="translate(0,1782)"><rect class="bs" x="912" width="140" height="22" rx="4"/><text class="g7m" transform="matrix(.8,0,0,1,917,16.5)">ORTLIEB Paulus</text><g transform="translate(1067,0)"><text class="g8m" y="11">ORTLIEB Pauly</text><text class="g8f" y="22.5">KLINGEL Ursula</text></g></g>
<g id="n127" transform="translate(0,1806.5)"><rect class="bs" x="912" width="140" height="22" rx="4"/><text class="g7f" transform="matrix(.8,0,0,1,917,16.5)">BERGER Anna</text><g transform="translate(1067,0)"><text class="g8m" y="10">BERGER Oswald</text><text class="g8f" y="21.5">GOLL Anastasia</text></g></g>
</svg>
